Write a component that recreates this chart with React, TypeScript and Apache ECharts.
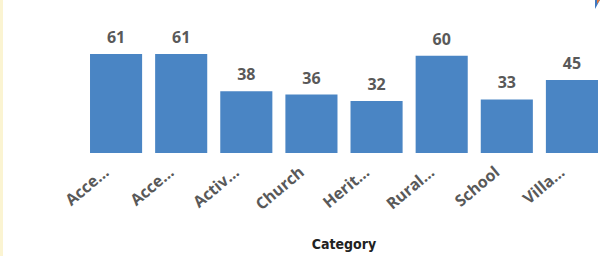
import React, { useEffect, useRef } from "react";
import * as echarts from "echarts";

const categories = ["Acce...", "Acce...", "Activ...", "Church", "Herit...", "Rural...", "School", "Villa..."];
const values = [61, 61, 38, 36, 32, 60, 33, 45];
const axisTitle = "Category";

export default function App() {
  const ref = useRef<HTMLDivElement>(null);
  useEffect(() => {
    if (!ref.current) return;
    const chart = echarts.init(ref.current, undefined, { renderer: "svg" });
    chart.setOption({
      animation: false,
      backgroundColor: "#ffffff",
      grid: { left: 83.5, right: 9.5, top: 39.4, bottom: 103 },
      xAxis: {
        type: "category",
        data: categories,
        axisLine: { show: false },
        axisTick: { show: false },
        axisLabel: {
          rotate: 40,
          margin: 8,
          padding: [0, 13, 0, 0],
          interval: 0,
          color: "#595959",
          fontFamily: "Open Sans",
          fontWeight: "bold",
          fontSize: 16,
        },
        name: axisTitle,
        nameLocation: "middle",
        nameGap: 84,
        nameTextStyle: {
          color: "#222222",
          fontFamily: "DejaVu Sans Condensed",
          fontWeight: "bold",
          fontSize: 14,
        },
      },
      yAxis: {
        type: "value",
        min: 0,
        max: 70,
        show: false,
        splitLine: { show: false },
      },
      series: [
        {
          type: "bar",
          data: values,
          barCategoryGap: "20%",
          itemStyle: { color: "#4A85C4" },
          label: {
            show: true,
            position: "top",
            distance: 9,
            color: "#595959",
            fontFamily: "Open Sans",
            fontWeight: "bold",
            fontSize: 16,
          },
        },
      ],
      graphic: [
        {
          type: "rect",
          left: 0,
          top: 0,
          shape: { x: 0, y: 0, width: 3, height: 256 },
          style: { fill: "#FBF4D2" },
        },
        {
          type: "polygon",
          shape: { points: [[595, 0], [600, 0], [595, 9]] },
          style: { fill: "#3F78C0" },
        },
        {
          type: "polygon",
          shape: { points: [[597, 0], [600, 0], [597, 4]] },
          style: { fill: "#E0763A" },
        },
      ],
    });
    return () => chart.dispose();
  }, []);
  return <div ref={ref} style={{ width: 614, height: 256, position: "fixed", left: 0, top: 0 }} />;
}
